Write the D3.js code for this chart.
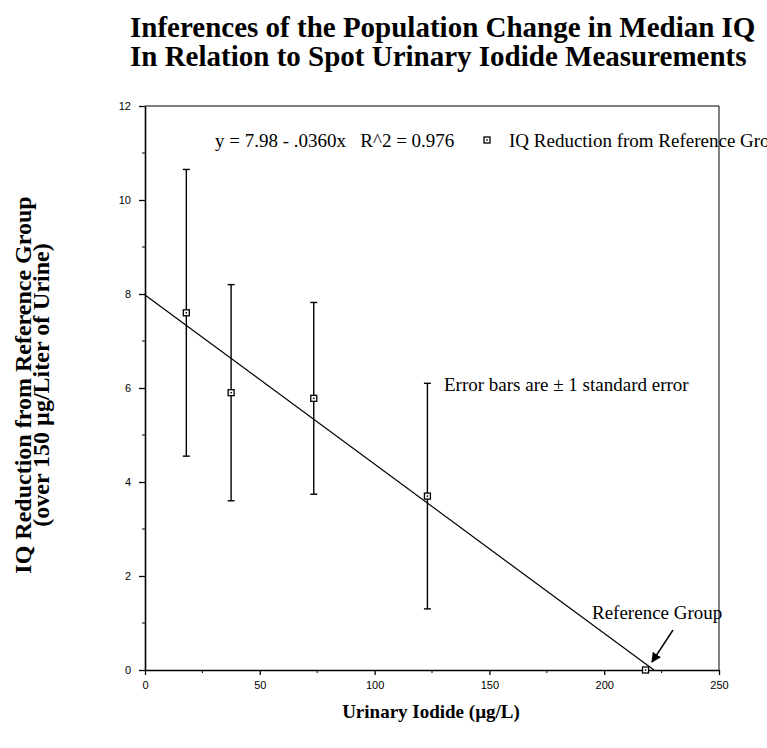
<!DOCTYPE html>
<html>
<head>
<meta charset="utf-8">
<script src="https://cdn.jsdelivr.net/npm/d3@7"></script>
<style>
  body { margin: 0; background: #fff; }
  svg { display: block; }
  .serif { font-family: "Liberation Serif", "Times New Roman", serif; }
  .axis text { font-family: "Liberation Sans", Arial, sans-serif; font-size: 11px; fill: #000; }
</style>
</head>
<body>
<div id="chart"></div>
<script>
// Data
const iodide = [18, 37.5, 73.5, 123, 218];          // µg/L
const iqReduction = [7.6, 5.9, 5.78, 3.7, 0];
const stdError = [3.05, 2.3, 2.04, 2.4, 0];
const fitIntercept = 7.98;
const fitSlope = -0.036;
const xTicks = [0, 50, 100, 150, 200, 250];
const yTicks = [0, 2, 4, 6, 8, 10, 12];

const width = 767, height = 748;
const svg = d3.select('#chart').append('svg')
  .attr('width', width)
  .attr('height', height);

const x = d3.scaleLinear().domain([0, 250]).range([145, 719]);
const y = d3.scaleLinear().domain([0, 12]).range([670, 106]);

// frame (top and right)
svg.append('path')
  .attr('d', `M${x(0)},${y(12)}H${x(250)}V${y(0)}`)
  .attr('fill', 'none')
  .attr('stroke', '#000')
  .attr('stroke-width', 1);

// minor ticks
const xMinor = d3.range(25, 250, 50);
const yMinor = d3.range(1, 12, 2);
svg.append('g')
  .selectAll('line')
  .data(xMinor)
  .join('line')
  .attr('x1', d => x(d)).attr('x2', d => x(d))
  .attr('y1', y(0)).attr('y2', y(0) + 3)
  .attr('stroke', '#000');
svg.append('g')
  .selectAll('line')
  .data(yMinor)
  .join('line')
  .attr('x1', x(0) - 3).attr('x2', x(0))
  .attr('y1', d => y(d)).attr('y2', d => y(d))
  .attr('stroke', '#000');

// axes
const xAxis = svg.append('g')
  .attr('class', 'axis')
  .attr('transform', `translate(0,${y(0)})`)
  .call(d3.axisBottom(x).tickValues(xTicks).tickSize(5).tickSizeOuter(0).tickPadding(6));
const yAxis = svg.append('g')
  .attr('class', 'axis')
  .attr('transform', `translate(${x(0)},0)`)
  .call(d3.axisLeft(y).tickValues(yTicks).tickSize(6).tickSizeOuter(0).tickPadding(8));
[xAxis, yAxis].forEach(g => {
  g.select('.domain').attr('stroke-width', 1.6);
  g.selectAll('.tick line').attr('stroke-width', 1.3);
});

// regression line
const xEnd = -fitIntercept / fitSlope;
svg.append('line')
  .attr('x1', x(0)).attr('y1', y(fitIntercept))
  .attr('x2', x(xEnd)).attr('y2', y(0))
  .attr('stroke', '#000')
  .attr('stroke-width', 1.2);

// error bars
const points = iodide.map((v, i) => ({ x: v, y: iqReduction[i], se: stdError[i] }));
const bars = svg.append('g')
  .selectAll('g')
  .data(points.filter(d => d.se > 0))
  .join('g')
  .attr('stroke', '#000')
  .attr('stroke-width', 1.4);
bars.append('line')
  .attr('x1', d => x(d.x)).attr('x2', d => x(d.x))
  .attr('y1', d => y(d.y + d.se)).attr('y2', d => y(d.y - d.se));
bars.append('line')
  .attr('x1', d => x(d.x) - 3.5).attr('x2', d => x(d.x) + 3.5)
  .attr('y1', d => y(d.y + d.se)).attr('y2', d => y(d.y + d.se));
bars.append('line')
  .attr('x1', d => x(d.x) - 3.5).attr('x2', d => x(d.x) + 3.5)
  .attr('y1', d => y(d.y - d.se)).attr('y2', d => y(d.y - d.se));

// markers: small open square with a centre dot
function marker(g, cx, cy) {
  g.append('rect')
    .attr('x', cx - 3).attr('y', cy - 3)
    .attr('width', 6).attr('height', 6)
    .attr('fill', '#fff')
    .attr('stroke', '#000')
    .attr('stroke-width', 1.3);
  g.append('rect')
    .attr('x', cx - 0.75).attr('y', cy - 0.75)
    .attr('width', 1.5).attr('height', 1.5)
    .attr('fill', '#000');
}
const markers = svg.append('g');
points.forEach(d => marker(markers, x(d.x), y(d.y)));

// equation + legend
svg.append('text')
  .attr('class', 'serif')
  .attr('x', 215).attr('y', 147)
  .attr('font-size', 19)
  .style('white-space', 'pre')
  .text('y = 7.98 - .0360x   R^2 = 0.976');
marker(svg.append('g'), 487, 140);
svg.append('text')
  .attr('class', 'serif')
  .attr('x', 509).attr('y', 147)
  .attr('font-size', 19)
  .text('IQ Reduction from Reference Group');

// annotations
svg.append('text')
  .attr('class', 'serif')
  .attr('x', 444).attr('y', 391)
  .attr('font-size', 19)
  .text('Error bars are \u00b1 1 standard error');
svg.append('text')
  .attr('class', 'serif')
  .attr('x', 592).attr('y', 619)
  .attr('font-size', 19)
  .text('Reference Group');

// arrow pointing at the reference group
svg.append('defs').append('marker')
  .attr('id', 'arrowhead')
  .attr('viewBox', '0 0 10 10')
  .attr('refX', 9).attr('refY', 5)
  .attr('markerWidth', 10).attr('markerHeight', 10)
  .attr('markerUnits', 'userSpaceOnUse')
  .attr('orient', 'auto')
  .append('path')
  .attr('d', 'M0,0L10,5L0,10z')
  .attr('fill', '#000');
svg.append('line')
  .attr('x1', 673).attr('y1', 630)
  .attr('x2', 652).attr('y2', 662)
  .attr('stroke', '#000')
  .attr('stroke-width', 1.4)
  .attr('marker-end', 'url(#arrowhead)');

// titles
const title = svg.append('text')
  .attr('class', 'serif')
  .attr('font-size', 29)
  .attr('font-weight', 'bold');
title.append('tspan').attr('x', 130).attr('y', 37)
  .text('Inferences of the Population Change in Median IQ');
title.append('tspan').attr('x', 130).attr('y', 66)
  .text('In Relation to Spot Urinary Iodide Measurements');

svg.append('text')
  .attr('class', 'serif')
  .attr('x', 431).attr('y', 718)
  .attr('text-anchor', 'middle')
  .attr('font-size', 19)
  .attr('font-weight', 'bold')
  .text('Urinary Iodide (\u00b5g/L)');

const yLabel = svg.append('text')
  .attr('class', 'serif')
  .attr('transform', 'translate(0,385) rotate(-90)')
  .attr('text-anchor', 'middle')
  .attr('font-size', 24)
  .attr('font-weight', 'bold');
yLabel.append('tspan').attr('x', 0).attr('y', 31)
  .text('IQ Reduction from Reference Group');
yLabel.append('tspan').attr('x', 0).attr('y', 49)
  .text('(over 150 \u00b5g/Liter of Urine)');
</script>
</body>
</html>
